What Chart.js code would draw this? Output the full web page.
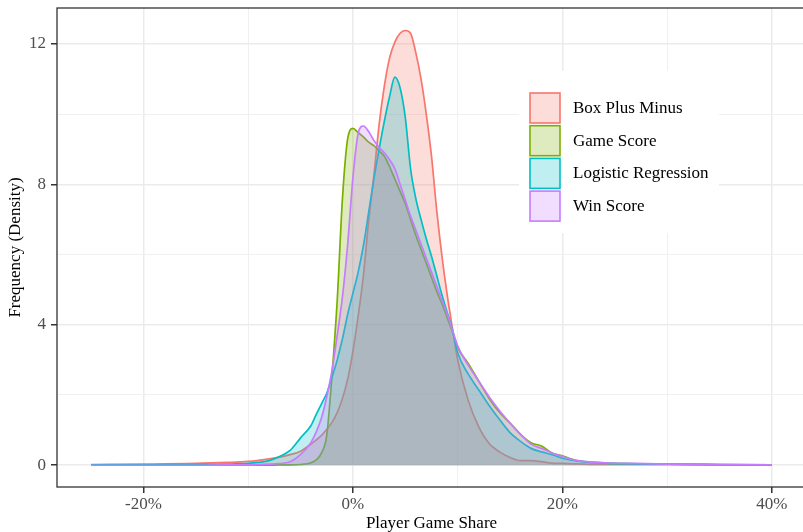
<!DOCTYPE html>
<html>
<head>
<meta charset="utf-8">
<script src="https://cdn.jsdelivr.net/npm/chart.js@4"></script>
<style>
  html, body { margin: 0; padding: 0; background: #fff; overflow: hidden; }
  #wrap { position: absolute; left: 0; top: 0; width: 812px; height: 532px; }
</style>
</head>
<body>
<div id="wrap"><canvas id="density" width="812" height="532"></canvas></div>
<script>
// player game share (%), shared grid for all four densities
var shareX = [-25, -20, -15, -12, -10, -9, -8, -7, -6, -5, -4, -3.5, -3, -2.5, -2, -1.5, -1, -0.5, 0, 0.5,
  1, 1.5, 2, 2.5, 3, 3.5, 4, 4.5, 5, 5.5, 6, 6.5, 7, 7.5, 8, 8.5, 9, 9.5, 10, 11,
  12, 13, 14, 15, 16, 17, 18, 19, 20, 21, 22, 24, 27, 30, 35, 40];

var boxPlusMinus = [0.02, 0.03, 0.05, 0.08, 0.11, 0.14, 0.18, 0.23, 0.3, 0.4, 0.6, 0.72, 0.85, 1.02, 1.22, 1.5, 1.9, 2.45, 3.25, 4.25,
  5.4, 6.95, 8.25, 9.7, 10.8, 11.6, 12.05, 12.3, 12.38, 12.3, 11.75, 11.0, 10.0, 8.8, 7.25, 5.95, 4.85, 3.9, 3.0, 1.85,
  1.1, 0.62, 0.38, 0.22, 0.13, 0.13, 0.1, 0.06, 0.05, 0.04, 0.03, 0.02, 0.02, 0.03, 0.02, 0.01];

var gameScore = [0, 0, 0, 0, 0, 0, 0, 0.01, 0.01, 0.02, 0.07, 0.15, 0.35, 0.85, 2.55, 4.7, 7.6, 9.3, 9.59, 9.47,
  9.35, 9.2, 9.1, 8.95, 8.8, 8.5, 8.15, 7.8, 7.45, 7.0, 6.55, 6.15, 5.75, 5.35, 4.95, 4.6, 4.2, 3.8, 3.35, 2.9,
  2.4, 1.9, 1.5, 1.2, 0.88, 0.64, 0.55, 0.35, 0.27, 0.16, 0.1, 0.06, 0.04, 0.02, 0.01, 0.01];

var logisticReg = [0.01, 0.01, 0.02, 0.03, 0.05, 0.08, 0.13, 0.25, 0.42, 0.78, 1.13, 1.45, 1.75, 2.05, 2.5, 3.0, 3.6, 4.3, 4.9, 5.5,
  6.25, 7.2, 8.15, 9.0, 9.8, 10.5, 11.05, 10.75, 9.9, 8.45, 7.6, 7.0, 6.45, 5.95, 5.4, 4.85, 4.35, 3.85, 3.2, 2.6,
  2.15, 1.7, 1.3, 0.93, 0.68, 0.48, 0.38, 0.3, 0.2, 0.14, 0.1, 0.06, 0.04, 0.03, 0.02, 0.01];

var winScore = [0, 0, 0, 0.01, 0.01, 0.02, 0.03, 0.05, 0.1, 0.3, 0.65, 0.95, 1.35, 1.95, 2.7, 3.7, 4.8, 6.3, 8.2, 9.45,
  9.66, 9.5, 9.25, 9.05, 8.9, 8.7, 8.45, 8.0, 7.55, 7.1, 6.7, 6.3, 5.9, 5.5, 5.1, 4.7, 4.3, 3.85, 3.4, 2.85,
  2.4, 1.95, 1.55, 1.2, 0.88, 0.6, 0.48, 0.35, 0.25, 0.16, 0.11, 0.07, 0.05, 0.03, 0.02, 0.01];

var seriesNames = ["Box Plus Minus", "Game Score", "Logistic Regression", "Win Score"];
var seriesValues = [boxPlusMinus, gameScore, logisticReg, winScore];
var lineColors = ["#F8766D", "#7CAE00", "#00BFC4", "#C77CFF"];
var fillColors = ["rgba(248,118,109,0.25)", "rgba(124,174,0,0.25)", "rgba(0,191,196,0.25)", "rgba(199,124,255,0.25)"];

var xMajor = [-20, 0, 20, 40];
var xMinor = [-10, 10, 30];
var yMajor = [0, 4, 8, 12];
var yMinor = [2, 6, 10];

Chart.defaults.font.family = '"Liberation Serif", "Times New Roman", serif';
Chart.defaults.font.size = 17;

var datasets = seriesNames.map(function (name, i) {
  return {
    label: name,
    data: shareX.map(function (x, j) { return { x: x, y: seriesValues[i][j] }; }),
    borderColor: lineColors[i],
    backgroundColor: fillColors[i],
    borderWidth: 1.7,
    pointRadius: 0,
    fill: 'origin',
    cubicInterpolationMode: 'monotone',
    order: seriesNames.length - i   // first series at the bottom, like ggplot
  };
});

function gridStyle(major) {
  return {
    color: function (c) { return major.indexOf(c.tick.value) >= 0 ? '#EBEBEB' : '#F0F0F0'; },
    lineWidth: function (c) { return major.indexOf(c.tick.value) >= 0 ? 1.5 : 1; },
    tickColor: function (c) { return major.indexOf(c.tick.value) >= 0 ? '#333333' : 'rgba(0,0,0,0)'; },
    tickLength: 6,
    drawTicks: true
  };
}

// panel border drawn on top, plus the legend box inside the panel
var panelExtras = {
  id: 'panelExtras',
  afterDatasetsDraw: function (chart) {
    var ctx = chart.ctx, ca = chart.chartArea;
    ctx.save();
    ctx.strokeStyle = '#333333';
    ctx.lineWidth = 1.3;
    ctx.strokeRect(ca.left, ca.top, ca.right - ca.left, ca.bottom - ca.top);

    var x0 = ca.left + 462, y0 = ca.top + 63;
    ctx.fillStyle = '#ffffff';
    ctx.fillRect(x0, y0, 200, 162);
    chart.data.datasets.forEach(function (ds, i) {
      var ky = y0 + 22 + i * 32.7;
      ctx.fillStyle = ds.backgroundColor;
      ctx.fillRect(x0 + 11, ky, 30, 30);
      ctx.strokeStyle = ds.borderColor;
      ctx.lineWidth = 1.6;
      ctx.strokeRect(x0 + 11, ky, 30, 30);
      ctx.fillStyle = '#000000';
      ctx.font = '17px "Liberation Serif", "Times New Roman", serif';
      ctx.textBaseline = 'middle';
      ctx.textAlign = 'left';
      ctx.fillText(ds.label, x0 + 54, ky + 15.5);
    });
    ctx.restore();
  }
};

new Chart(document.getElementById('density'), {
  type: 'line',
  data: { datasets: datasets },
  plugins: [panelExtras],
  options: {
    responsive: false,
    animation: false,
    layout: { padding: { left: 0, top: 8, right: 6, bottom: 0 } },
    plugins: { legend: { display: false }, tooltip: { enabled: false } },
    scales: {
      x: {
        type: 'linear',
        min: -28.25,
        max: 43.25,
        afterBuildTicks: function (s) {
          s.ticks = xMajor.concat(xMinor).sort(function (a, b) { return a - b; }).map(function (v) { return { value: v }; });
        },
        afterFit: function (s) { s.height = 45; s.paddingLeft = 0; s.paddingRight = 0; },
        ticks: {
          color: '#4D4D4D',
          padding: 1,
          maxRotation: 0,
          autoSkip: false,
          callback: function (v) { return xMajor.indexOf(v) >= 0 ? v + '%' : ''; }
        },
        grid: gridStyle(xMajor),
        border: { display: false },
        title: { display: true, text: 'Player Game Share', color: '#000000', font: { size: 17, lineHeight: 1.0 }, padding: { top: 0, bottom: 0 } }
      },
      y: {
        type: 'linear',
        min: -0.62,
        max: 13.02,
        afterBuildTicks: function (s) {
          s.ticks = yMajor.concat(yMinor).sort(function (a, b) { return a - b; }).map(function (v) { return { value: v }; });
        },
        afterFit: function (s) { s.width = 57; s.paddingTop = 0; s.paddingBottom = 0; },
        ticks: {
          color: '#4D4D4D',
          padding: 5,
          autoSkip: false,
          callback: function (v) { return yMajor.indexOf(v) >= 0 ? String(v) : ''; }
        },
        grid: gridStyle(yMajor),
        border: { display: false },
        title: { display: true, text: 'Frequency (Density)', color: '#000000', font: { size: 17, lineHeight: 1.0 }, padding: { top: 7.5, bottom: 0 } }
      }
    }
  }
});
</script>
</body>
</html>
